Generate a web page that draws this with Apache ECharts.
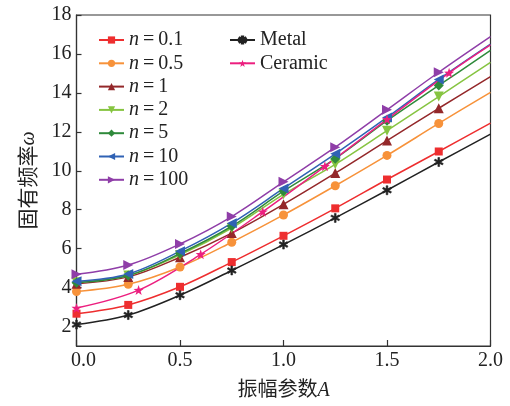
<!DOCTYPE html>
<html><head><meta charset="utf-8">
<script src="https://cdn.jsdelivr.net/npm/echarts@6/dist/echarts.min.js"></script>
<style>html,body{margin:0;padding:0;background:#fff}#c{width:510px;height:406px}</style>
</head><body><div id="c"></div>
<script>
// Amplitude parameter A (x) for the n-series and Metal
const xA = [0, 0.25, 0.5, 0.75, 1.0, 1.25, 1.5, 1.75, 2.0];
// Ceramic marker positions
const xCeramic = [0, 0.3, 0.6, 0.9, 1.2, 1.5, 1.8, 2.0];

const yN01  = [2.66, 3.11, 4.04, 5.31, 6.66, 8.07, 9.55, 10.99, 12.45];
const yN05  = [3.80, 4.17, 5.06, 6.33, 7.73, 9.23, 10.79, 12.43, 14.03];
const yN1   = [4.20, 4.55, 5.56, 6.80, 8.28, 9.88, 11.55, 13.21, 14.83];
const yN2   = [4.28, 4.62, 5.68, 7.06, 8.79, 10.33, 12.06, 13.81, 15.57];
const yN5   = [4.25, 4.62, 5.75, 7.15, 8.95, 10.62, 12.57, 14.38, 16.18];
const yN10  = [4.32, 4.70, 5.87, 7.31, 9.09, 10.87, 12.74, 14.69, 16.50];
const yN100 = [4.68, 5.16, 6.24, 7.65, 9.43, 11.21, 13.13, 15.06, 16.89];
const yMetal   = [2.10, 2.59, 3.61, 4.88, 6.21, 7.58, 9.00, 10.45, 11.88];
const yCeramic = [2.95, 3.87, 5.71, 7.90, 10.23, 12.64, 15.03, 16.47];

const xTicks = [0, 0.5, 1.0, 1.5, 2.0];
const yTicks = [2, 4, 6, 8, 10, 12, 14, 16, 18];

const nNames = ['n=0.1', 'n=0.5', 'n=1', 'n=2', 'n=5', 'n=10', 'n=100'];
const matNames = ['Metal', 'Ceramic'];

const SERIF = '"Liberation Serif","DejaVu Serif","Noto Sans CJK SC",serif';
const ASTER = 'path://M-0.9,5L0.9,5L0.9,-5L-0.9,-5Z M3.88,3.28L4.78,1.72L-3.88,-3.28L-4.78,-1.72Z M-4.78,1.72L-3.88,3.28L4.78,-1.72L3.88,-3.28Z';
const STAR = 'path://M0,-5L1.18,-1.62L4.76,-1.55L1.9,0.62L2.94,4.05L0,2L-2.94,4.05L-1.9,0.62L-4.76,-1.55L-1.18,-1.62Z';

function pts(xs, ys) {
  return ys.map((y, i) => {
    const item = { value: [xs[i], y] };
    if (i === ys.length - 1) item.symbol = 'none';
    return item;
  });
}

function mk(name, xs, ys, color, symbol, size, rotate) {
  return {
    name, type: 'line', smooth: 0.35,
    data: pts(xs, ys),
    symbol, symbolSize: size, symbolRotate: rotate || 0,
    showAllSymbol: true,
    lineStyle: { color, width: 1.5 },
    itemStyle: { color, borderWidth: 0 },
    emphasis: { disabled: true },
    animation: false
  };
}

const series = [
  mk('n=0.1', xA, yN01, '#ee2e2f', 'rect', 8),
  mk('n=0.5', xA, yN05, '#f7923a', 'circle', 9),
  mk('n=1', xA, yN1, '#94282a', 'triangle', 10),
  mk('n=2', xA, yN2, '#86c441', 'triangle', 10, 180),
  mk('n=5', xA, yN5, '#2f8a3b', 'diamond', 10),
  mk('n=10', xA, yN10, '#3062b4', 'triangle', 10, 90),
  mk('n=100', xA, yN100, '#8f3ea8', 'triangle', 10, -90),
  mk('Metal', xA, yMetal, '#222222', ASTER, 9),
  mk('Ceramic', xCeramic, yCeramic, '#ec1f7f', STAR, 10)
];
series[7].itemStyle = { color: '#222222', borderColor: '#222222', borderWidth: 0.6 };

const legendText = {
  fontFamily: SERIF, fontSize: 20, color: '#222',
  rich: { i: { fontStyle: 'italic', fontFamily: SERIF, fontSize: 20 }, r: { fontFamily: SERIF, fontSize: 20 } }
};
function legFmt(name) {
  if (name.startsWith('n=')) return '{i|n}{r|\u2009=\u2009' + name.slice(2) + '}';
  return name;
}

const chart = echarts.init(document.getElementById('c'), null, { renderer: 'canvas' });
chart.setOption({
  animation: false,
  backgroundColor: '#fff',
  grid: { left: 76.5, right: 19.5, top: 15, bottom: 57, show: true, borderColor: '#333', borderWidth: 1.2, backgroundColor: 'transparent' },
  legend: [
    { data: nNames, orient: 'vertical', left: 93, top: 25, itemWidth: 25, itemHeight: 9, itemGap: 3.3, padding: 5,
      textStyle: legendText, formatter: legFmt, selectedMode: false },
    { data: matNames, orient: 'vertical', left: 224, top: 25, itemWidth: 25, itemHeight: 9, itemGap: 3.3, padding: 5,
      textStyle: legendText, formatter: legFmt, selectedMode: false }
  ],
  xAxis: {
    type: 'value', min: 0, max: 2, interval: 0.5,
    name: '振幅参数{i|A}', nameLocation: 'middle', nameGap: 35,
    nameTextStyle: { fontFamily: SERIF, fontSize: 20, color: '#222',
      rich: { i: { fontStyle: 'italic', fontFamily: SERIF, fontSize: 20 } } },
    axisLine: { show: true, lineStyle: { color: '#333', width: 1.2 } },
    axisTick: { show: true, inside: true, length: 6, lineStyle: { color: '#333', width: 1.2 }, customValues: xTicks },
    axisLabel: { fontFamily: SERIF, fontSize: 20, color: '#222', margin: 5, customValues: xTicks,
      formatter: v => v === 0 ? '{a|0.0}' : v.toFixed(1),
      rich: { a: { padding: [0, 0, 0, 14], fontFamily: SERIF, fontSize: 20, color: '#222' } } },
    splitLine: { show: false }
  },
  yAxis: {
    type: 'value', min: 1, max: 18,
    name: '固有频率{i|ω}', nameLocation: 'middle', nameGap: 37, nameRotate: 90,
    nameTextStyle: { fontFamily: SERIF, fontSize: 21, color: '#222',
      rich: { i: { fontStyle: 'italic', fontFamily: SERIF, fontSize: 20 } } },
    axisLine: { show: true, lineStyle: { color: '#333', width: 1.2 } },
    axisTick: { show: true, inside: true, length: 5, lineStyle: { color: '#333', width: 1.2 }, customValues: yTicks },
    axisLabel: { fontFamily: SERIF, fontSize: 20, color: '#222', margin: 5, customValues: yTicks,
      formatter: v => String(v) },
    splitLine: { show: false }
  },
  series
});
</script></body></html>
